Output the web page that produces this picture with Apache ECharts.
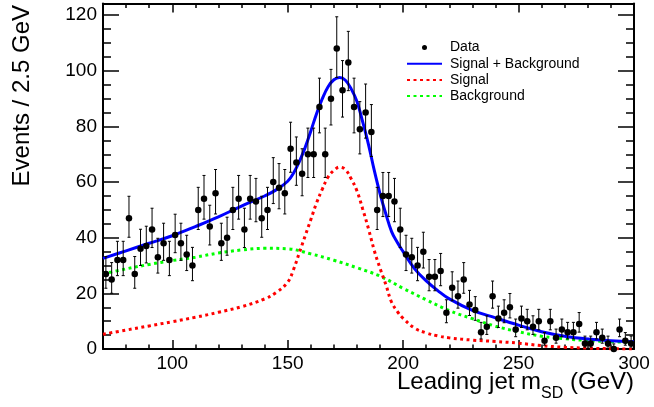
<!DOCTYPE html>
<html>
<head>
<meta charset="utf-8">
<script src="https://cdn.jsdelivr.net/npm/echarts@6/dist/echarts.min.js"></script>
<style>
  html, body { margin: 0; padding: 0; background: #fff; }
  #chart { width: 654px; height: 407px; }
</style>
</head>
<body>
<div id="chart"></div>
<script>
// Histogram binning of the leading-jet soft-drop mass
const binStart = 70;
const binWidth = 2.5;

// Observed events per 2.5 GeV bin, 70-300 GeV
const counts = [
  27, 25, 32, 32, 47, 27, 36, 37, 43, 33,
  38, 32, 41, 38, 34, 30, 50, 54, 44, 56,
  38, 40, 50, 54, 43, 54, 53, 47, 50, 60,
  58, 56, 72, 67, 63, 70, 70, 87, 70, 90,
  108, 93, 103, 87, 79, 85, 78, 50, 55, 55,
  53, 43, 34, 33, 30, 35, 26, 26, 28, 13,
  22, 19, 25, 16, 14, 6, 8, 19, 11, 13,
  15, 7, 11, 10, 8, 10, 3, 10, 4, 7,
  6, 6, 9, 2, 2, 6, 4, 2, 0, 7,
  3, 2
];

// Fit curves sampled along the mass axis
const fitMass = [70, 80, 90, 100, 110, 120, 130, 140, 145, 150, 152.5, 155, 157.5, 160, 162.5,
  165, 167.5, 170, 172.5, 175, 177.5, 180, 182.5, 185, 187.5, 190, 192.5, 195, 197.5,
  200, 205, 210, 215, 220, 230, 240, 250, 260, 270, 280, 290, 300];
const sigPlusBkg = [32.6, 35.3, 38.0, 40.7, 44.0, 47.5, 51.4, 55.0, 57.2, 60.3, 63.2, 67.3, 72.3, 78.3, 84.6,
  90.0, 94.3, 96.8, 97.6, 96.6, 93.5, 89.0, 81.6, 73.5, 64.2, 55.8, 48.6, 42.2, 38.3,
  35.0, 28.8, 24.5, 21.0, 18.0, 13.9, 11.2, 8.6, 6.2, 4.6, 3.6, 3.0, 2.6];
const signal = [5.3, 6.8, 8.3, 9.8, 11.4, 13.2, 15.2, 18.0, 20.3, 24.0, 28.5, 34.5, 40.5, 46.5, 52.5,
  57.5, 61.8, 64.2, 65.4, 64.5, 61.2, 56.8, 50.3, 43.2, 35.4, 29.0, 23.2, 16.8, 13.5,
  11.0, 7.5, 5.8, 4.7, 4.0, 3.2, 2.7, 2.1, 1.2, 0.6, 0.3, 0.1, 0.0];
const bkgMass = [70, 80, 90, 100, 110, 120, 130, 140, 150, 160, 170, 180, 190, 200,
  210, 220, 230, 240, 250, 260, 270, 280, 290, 300];
const background = [27.0, 28.8, 30.4, 31.8, 33.0, 34.5, 35.6, 36.2, 36.0, 34.2, 31.9, 29.2, 26.2, 21.8,
  17.7, 13.8, 10.9, 8.2, 6.2, 4.6, 3.7, 3.05, 2.65, 2.4];

// Axis ticks and labels
const xLabels = [100, 150, 200, 250, 300];
const xMajorTicks = [100, 150, 200, 250];
const xMinorTicks = [80, 90, 110, 120, 130, 140, 160, 170, 180, 190, 210, 220, 230, 240, 260, 270, 280, 290];
const yLabels = [0, 20, 40, 60, 80, 100, 120];
const yMajorTicks = [20, 40, 60, 80, 100, 120];
const yMinorTicks = [5, 10, 15, 25, 30, 35, 45, 50, 55, 65, 70, 75, 85, 90, 95, 105, 110, 115];

const X_MIN = 70, X_MAX = 300, Y_MIN = 0, Y_MAX = 124.2;
const FONT = 'Liberation Sans, Arial, Helvetica, sans-serif';

// Poisson 68% interval (Wilson-Hilferty form of the Garwood interval)
function poissonLow(n) {
  if (n <= 0) return 0;
  const t = 1 - 1 / (9 * n) - 1 / (3 * Math.sqrt(n));
  return n * t * t * t;
}
function poissonHigh(n) {
  const m = n + 1;
  const t = 1 - 1 / (9 * m) + 1 / (3 * Math.sqrt(m));
  return m * t * t * t;
}

const dataPoints = counts.map((n, i) => [binStart + binWidth * (i + 0.5), n]);
const errorData = counts.map((n, i) => [binStart + binWidth * (i + 0.5), n, poissonLow(n), poissonHigh(n)]);
const sbLine = fitMass.map((m, i) => [m, sigPlusBkg[i]]);
const sLine = fitMass.map((m, i) => [m, signal[i]]);
const bLine = bkgMass.map((m, i) => [m, background[i]]);

function xAxisDef(position, ticks, len, withLine, labels) {
  return {
    type: 'value', min: X_MIN, max: X_MAX, position: position,
    axisLine: { show: withLine, onZero: false, lineStyle: { color: '#000', width: 2 } },
    axisTick: { show: true, inside: true, length: len, customValues: ticks, lineStyle: { color: '#000', width: 1.5 } },
    axisLabel: labels ? { show: true, customValues: labels, margin: 5, color: '#000', fontSize: 19, fontFamily: FONT } : { show: false },
    splitLine: { show: false }
  };
}
function yAxisDef(position, ticks, len, withLine, labels) {
  return {
    type: 'value', min: Y_MIN, max: Y_MAX, position: position,
    axisLine: { show: withLine, onZero: false, lineStyle: { color: '#000', width: 2 } },
    axisTick: { show: true, inside: true, length: len, customValues: ticks, lineStyle: { color: '#000', width: 1.5 } },
    axisLabel: labels ? { show: true, customValues: labels, margin: 6, color: '#000', fontSize: 19, fontFamily: FONT } : { show: false },
    splitLine: { show: false }
  };
}

function textWidth(str, font) {
  const ctx = document.createElement('canvas').getContext('2d');
  ctx.font = font;
  return ctx.measureText(str).width;
}

const titleFont = '24px "Liberation Sans"';
const subFont = '16px "Liberation Sans"';
const titleRight = 634;
const tailText = ' (GeV)';
const subText = 'SD';
const tailW = textWidth(tailText, titleFont);
const subW = textWidth(subText, subFont);

// Legend entries for the fit curves show only their line
const noMarker = { opacity: 0 };

const chart = echarts.init(document.getElementById('chart'), null, { renderer: 'canvas' });
chart.setOption({
  animation: false,
  backgroundColor: '#fff',
  grid: { left: 103, right: 20, top: 3.5, bottom: 58, containLabel: false },
  xAxis: [
    xAxisDef('bottom', xMajorTicks, 9, true, xLabels),
    xAxisDef('bottom', xMinorTicks, 4.5, false, null),
    xAxisDef('top', xMajorTicks, 9, true, null),
    xAxisDef('top', xMinorTicks, 4.5, false, null)
  ],
  yAxis: [
    yAxisDef('left', yMajorTicks, 16, true, yLabels),
    yAxisDef('left', yMinorTicks, 8, false, null),
    yAxisDef('right', yMajorTicks, 16, true, null),
    yAxisDef('right', yMinorTicks, 8, false, null)
  ],
  legend: {
    orient: 'vertical', left: 406, top: 40.5, padding: 0,
    itemWidth: 35, itemHeight: 5, itemGap: 2.2,
    selectedMode: false,
    textStyle: { fontSize: 14, fontFamily: FONT, color: '#000', padding: [0, 0, 0, 3] },
    data: [
      { name: 'Data', icon: 'circle', itemStyle: { color: '#000', opacity: 1 } },
      { name: 'Signal + Background', itemStyle: noMarker },
      { name: 'Signal', itemStyle: noMarker },
      { name: 'Background', itemStyle: noMarker }
    ]
  },
  graphic: [
    {
      type: 'text', x: 22, y: 5, rotation: Math.PI / 2,
      style: { text: 'Events / 2.5 GeV', font: titleFont, fill: '#000',
        align: 'right', verticalAlign: 'middle', textAlign: 'right', textVerticalAlign: 'middle' }
    },
    {
      type: 'text', x: titleRight, y: 382,
      style: { text: tailText, font: titleFont, fill: '#000',
        align: 'right', verticalAlign: 'middle', textAlign: 'right', textVerticalAlign: 'middle' }
    },
    {
      type: 'text', x: titleRight - tailW, y: 394,
      style: { text: subText, font: subFont, fill: '#000',
        align: 'right', verticalAlign: 'middle', textAlign: 'right', textVerticalAlign: 'middle' }
    },
    {
      type: 'text', x: titleRight - tailW - subW, y: 382,
      style: { text: 'Leading jet m', font: titleFont, fill: '#000',
        align: 'right', verticalAlign: 'middle', textAlign: 'right', textVerticalAlign: 'middle' }
    }
  ],
  series: [
    {
      name: 'Background', type: 'line', data: bLine, smooth: 0.4,
      symbol: 'none', z: 3,
      lineStyle: { color: '#00ff00', width: 3, type: [3, 3.5] },
      itemStyle: { color: '#00ff00' }
    },
    {
      name: 'Signal', type: 'line', data: sLine, smooth: 0.4,
      symbol: 'none', z: 3,
      lineStyle: { color: '#ff0000', width: 3, type: [3, 3.5] },
      itemStyle: { color: '#ff0000' }
    },
    {
      name: 'Signal + Background', type: 'line', data: sbLine, smooth: 0.4,
      symbol: 'none', z: 4,
      lineStyle: { color: '#0000ff', width: 3 },
      itemStyle: { color: '#0000ff' }
    },
    {
      name: 'Data errors', type: 'custom', data: errorData, z: 5,
      encode: { x: 0, y: 1 },
      renderItem: function (params, api) {
        const x = api.value(0);
        const lo = api.value(2), hi = api.value(3);
        const top = api.coord([x, hi]);
        const bot = api.coord([x, lo]);
        const cap = 1.5;
        const st = { stroke: '#000', lineWidth: 1 };
        return {
          type: 'group',
          children: [
            { type: 'line', shape: { x1: top[0], y1: top[1], x2: bot[0], y2: bot[1] }, style: st },
            { type: 'line', shape: { x1: top[0] - cap, y1: top[1], x2: top[0] + cap, y2: top[1] }, style: st },
            { type: 'line', shape: { x1: bot[0] - cap, y1: bot[1], x2: bot[0] + cap, y2: bot[1] }, style: st }
          ]
        };
      }
    },
    {
      name: 'Data', type: 'scatter', data: dataPoints, z: 6,
      symbol: 'circle', symbolSize: 6.5,
      itemStyle: { color: '#000', opacity: 1 }
    }
  ]
});
</script>
</body>
</html>
